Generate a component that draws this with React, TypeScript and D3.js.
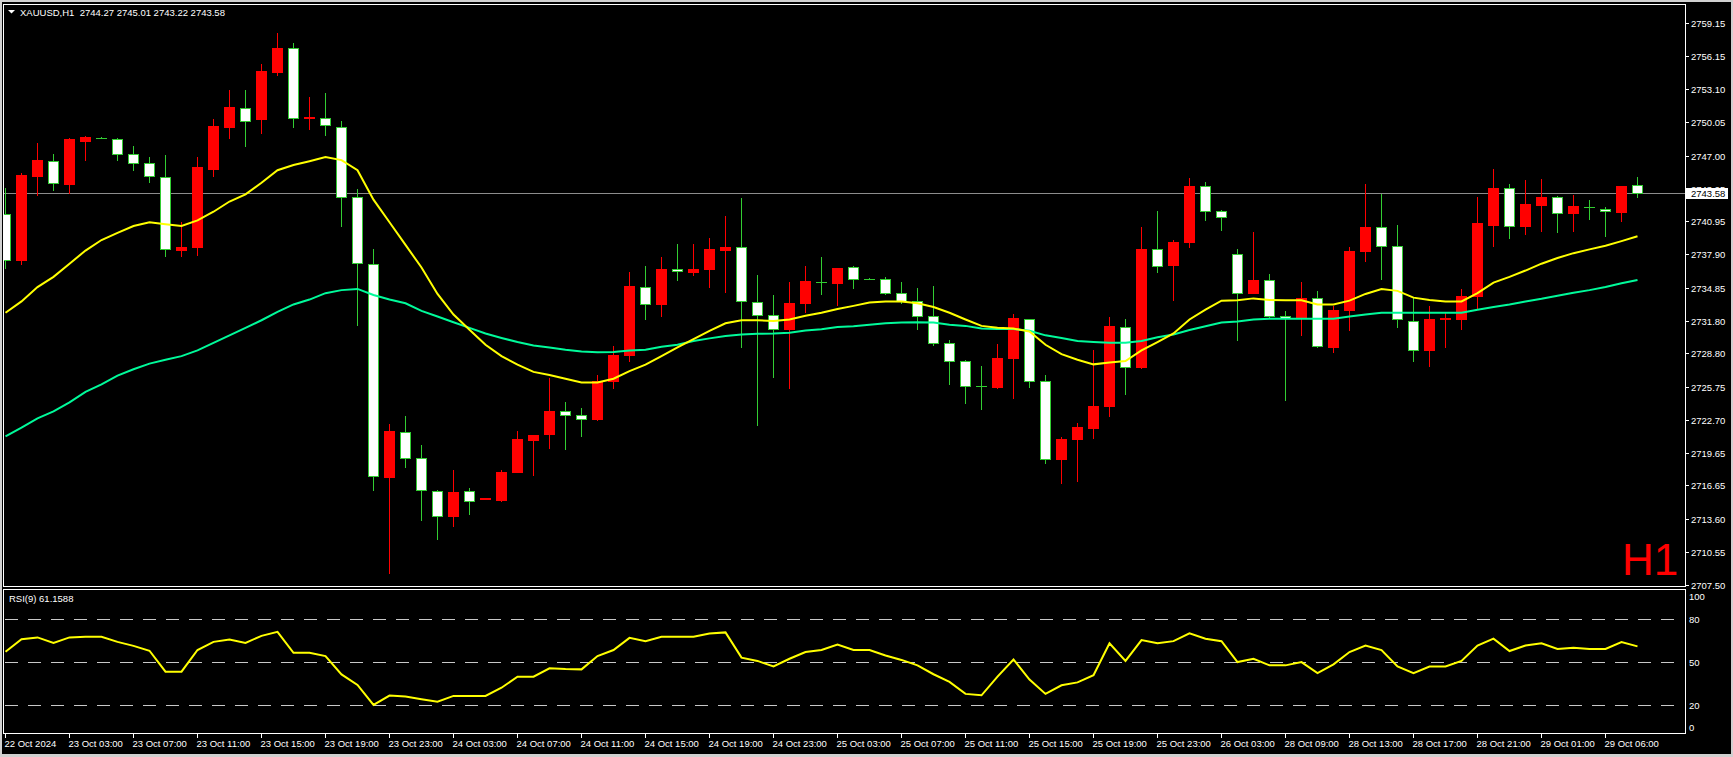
import React from 'react';
import * as d3 from 'd3';

// ---------- DATA ----------
const symbolTitle = 'XAUUSD,H1';
const titleValues = '2744.27 2745.01 2743.22 2743.58';
const rsiTitle = 'RSI(9) 61.1588';
const currentPrice = 2743.58;

const timeLabels = [
  '22 Oct 2024', '23 Oct 03:00', '23 Oct 07:00', '23 Oct 11:00', '23 Oct 15:00', '23 Oct 19:00',
  '23 Oct 23:00', '24 Oct 03:00', '24 Oct 07:00', '24 Oct 11:00', '24 Oct 15:00', '24 Oct 19:00',
  '24 Oct 23:00', '25 Oct 03:00', '25 Oct 07:00', '25 Oct 11:00', '25 Oct 15:00', '25 Oct 19:00',
  '25 Oct 23:00', '26 Oct 03:00', '28 Oct 09:00', '28 Oct 13:00', '28 Oct 17:00', '28 Oct 21:00',
  '29 Oct 01:00', '29 Oct 06:00',
];
const timeLabelStep = 4; // bars between labels

const priceTicks = [
  2759.15, 2756.15, 2753.10, 2750.05, 2747.00, 2743.95, 2740.95, 2737.90, 2734.85,
  2731.80, 2728.80, 2725.75, 2722.70, 2719.65, 2716.65, 2713.60, 2710.55, 2707.50,
];
const rsiLevels = [80, 50, 20];
const rsiAxisLabels = [100, 80, 50, 20, 0];

const opens = [
  2741.66, 2737.40, 2745.13, 2746.51, 2744.36, 2748.32, 2748.66, 2748.56, 2747.17, 2746.34,
  2744.99, 2738.33, 2738.61, 2745.75, 2749.64, 2751.40, 2750.40, 2754.73, 2756.88, 2750.48,
  2750.50, 2749.67, 2743.22, 2737.05, 2717.39, 2721.58, 2719.16, 2716.14, 2713.82, 2716.14,
  2715.43, 2715.27, 2717.91, 2720.86, 2721.38, 2723.49, 2723.14, 2722.73, 2726.23, 2728.66,
  2734.90, 2733.37, 2736.60, 2736.29, 2736.56, 2738.33, 2738.61, 2733.51, 2732.33, 2731.05,
  2733.48, 2735.40, 2735.31, 2736.77, 2735.68, 2735.66, 2734.38, 2733.65, 2732.26, 2729.77,
  2728.14, 2725.80, 2725.68, 2728.35, 2731.95, 2726.23, 2719.12, 2720.89, 2721.97, 2723.94,
  2731.26, 2727.51, 2738.37, 2736.94, 2739.02, 2744.19, 2741.94, 2737.98, 2734.34, 2735.59,
  2732.26, 2732.02, 2733.93, 2729.42, 2732.75, 2738.19, 2740.41, 2738.71, 2731.81, 2729.11,
  2731.95, 2731.95, 2734.10, 2740.62, 2743.98, 2740.52, 2742.42, 2743.15, 2741.73, 2742.29,
  2742.11, 2741.83, 2744.27,
];
const highs = [
  2743.98, 2745.37, 2748.14, 2747.17, 2748.66, 2748.84, 2748.68, 2748.66, 2747.87, 2746.86,
  2747.03, 2740.93, 2746.83, 2750.40, 2753.00, 2753.00, 2755.43, 2758.27, 2757.40, 2752.37,
  2752.76, 2750.22, 2743.91, 2738.44, 2722.31, 2723.08, 2720.41, 2716.20, 2718.05, 2716.42,
  2715.50, 2718.08, 2721.69, 2721.30, 2726.58, 2724.29, 2723.80, 2726.82, 2729.52, 2736.25,
  2736.88, 2737.64, 2738.89, 2738.89, 2739.37, 2741.42, 2743.08, 2735.97, 2734.21, 2735.38,
  2736.81, 2737.64, 2736.66, 2736.80, 2735.70, 2735.83, 2735.38, 2734.79, 2734.97, 2730.01,
  2728.16, 2727.62, 2729.66, 2732.44, 2731.98, 2726.82, 2721.10, 2722.42, 2729.14, 2732.19,
  2731.92, 2740.41, 2741.87, 2739.20, 2744.95, 2744.54, 2741.96, 2738.37, 2740.00, 2736.11,
  2732.71, 2735.38, 2734.52, 2733.17, 2738.61, 2744.36, 2743.46, 2740.65, 2733.93, 2733.13,
  2732.65, 2734.69, 2743.19, 2745.72, 2744.40, 2744.75, 2744.82, 2743.29, 2743.39, 2742.87,
  2742.25, 2744.23, 2745.01,
];
const lows = [
  2736.63, 2737.05, 2743.39, 2743.81, 2743.53, 2746.58, 2748.64, 2746.58, 2745.65, 2744.57,
  2737.74, 2737.74, 2737.81, 2745.13, 2748.59, 2747.90, 2749.12, 2754.45, 2749.64, 2749.46,
  2748.91, 2740.52, 2731.43, 2716.24, 2708.55, 2718.32, 2713.47, 2711.74, 2712.95, 2713.99,
  2715.40, 2715.20, 2717.88, 2717.63, 2720.06, 2719.99, 2721.17, 2722.66, 2725.61, 2728.10,
  2731.92, 2732.26, 2735.56, 2735.97, 2734.90, 2734.45, 2729.39, 2722.21, 2726.65, 2725.61,
  2732.61, 2734.27, 2733.23, 2734.79, 2735.62, 2734.27, 2733.41, 2731.08, 2729.59, 2725.95,
  2724.22, 2723.70, 2725.66, 2724.74, 2725.68, 2718.67, 2716.83, 2717.04, 2721.03, 2723.01,
  2725.09, 2727.48, 2736.29, 2733.75, 2738.61, 2741.04, 2740.17, 2730.01, 2734.31, 2732.02,
  2724.50, 2730.46, 2729.35, 2728.90, 2730.91, 2737.29, 2735.66, 2731.22, 2728.14, 2727.62,
  2729.42, 2731.05, 2732.89, 2738.68, 2739.41, 2739.82, 2740.07, 2739.96, 2740.07, 2741.14,
  2739.58, 2740.97, 2743.22,
];
const closes = [
  2737.40, 2745.20, 2746.58, 2744.43, 2748.49, 2748.70, 2748.66, 2747.17, 2746.34, 2745.09,
  2738.37, 2738.61, 2745.93, 2749.70, 2751.44, 2750.22, 2754.77, 2756.88, 2750.50, 2750.52,
  2749.77, 2743.15, 2737.15, 2717.53, 2721.62, 2719.16, 2716.24, 2713.82, 2716.07, 2715.20,
  2715.47, 2717.91, 2720.93, 2721.27, 2723.53, 2723.14, 2722.80, 2726.23, 2728.66, 2734.97,
  2733.37, 2736.60, 2736.36, 2736.60, 2738.37, 2738.61, 2733.58, 2732.37, 2731.08, 2733.48,
  2735.42, 2735.36, 2736.63, 2735.66, 2735.64, 2734.38, 2733.58, 2732.26, 2729.77, 2728.14,
  2725.81, 2725.76, 2728.35, 2732.02, 2726.23, 2719.12, 2720.93, 2722.03, 2723.98, 2731.29,
  2727.58, 2738.37, 2736.88, 2739.02, 2744.23, 2741.87, 2741.38, 2734.38, 2735.59, 2732.26,
  2732.09, 2733.93, 2729.49, 2732.75, 2738.19, 2740.41, 2738.71, 2731.92, 2729.11, 2731.99,
  2732.09, 2734.10, 2740.76, 2743.98, 2740.55, 2742.53, 2743.15, 2741.73, 2742.32, 2742.27,
  2741.90, 2744.23, 2743.58,
];

const maFast = [
  2732.54, 2733.58, 2734.90, 2735.84, 2737.05, 2738.26, 2739.23, 2739.89, 2740.52, 2740.86,
  2740.69, 2740.52, 2741.04, 2741.83, 2742.77, 2743.43, 2744.50, 2745.65, 2746.13, 2746.48,
  2746.86, 2746.58, 2745.65, 2742.94, 2740.86, 2738.78, 2736.70, 2734.27, 2732.37, 2730.98,
  2729.59, 2728.55, 2727.76, 2727.10, 2726.82, 2726.47, 2726.13, 2726.13, 2726.47, 2727.17,
  2727.76, 2728.55, 2729.35, 2730.11, 2730.88, 2731.57, 2731.85, 2731.85, 2731.78, 2731.92,
  2732.26, 2732.54, 2732.89, 2733.17, 2733.48, 2733.58, 2733.58, 2733.41, 2733.06, 2732.54,
  2731.92, 2731.33, 2731.15, 2731.08, 2730.81, 2729.59, 2728.73, 2728.21, 2727.79, 2727.96,
  2728.10, 2729.07, 2729.84, 2730.63, 2731.92, 2732.82, 2733.65, 2733.69, 2733.86, 2733.72,
  2733.69, 2733.69, 2733.30, 2733.30, 2733.65, 2734.27, 2734.73, 2734.55, 2733.93, 2733.72,
  2733.58, 2733.58, 2734.34, 2735.31, 2735.84, 2736.42, 2737.05, 2737.57, 2738.02, 2738.37,
  2738.71, 2739.13, 2739.58,
];
const maSlow = [
  2721.17, 2721.97, 2722.83, 2723.46, 2724.29, 2725.26, 2725.95, 2726.75, 2727.34, 2727.86,
  2728.21, 2728.55, 2729.07, 2729.77, 2730.46, 2731.15, 2731.85, 2732.61, 2733.30, 2733.75,
  2734.34, 2734.62, 2734.73, 2734.17, 2733.75, 2733.41, 2732.71, 2732.19, 2731.67, 2731.15,
  2730.63, 2730.22, 2729.84, 2729.52, 2729.35, 2729.14, 2728.97, 2728.90, 2728.93, 2729.07,
  2729.14, 2729.42, 2729.59, 2729.94, 2730.18, 2730.39, 2730.53, 2730.60, 2730.63, 2730.70,
  2730.91, 2731.02, 2731.22, 2731.29, 2731.43, 2731.57, 2731.64, 2731.67, 2731.64, 2731.43,
  2731.33, 2731.08, 2731.05, 2731.05, 2730.88, 2730.46, 2730.22, 2729.94, 2729.84, 2729.77,
  2729.77, 2729.94, 2730.29, 2730.53, 2730.95, 2731.29, 2731.64, 2731.74, 2731.92, 2731.99,
  2731.99, 2731.99, 2731.99, 2731.99, 2732.19, 2732.37, 2732.54, 2732.54, 2732.54, 2732.54,
  2732.54, 2732.54, 2732.82, 2733.06, 2733.30, 2733.58, 2733.82, 2734.10, 2734.38, 2734.62,
  2734.90, 2735.25, 2735.56,
];
const rsiValues = [
  57.4, 66.2, 67.4, 63.6, 67.4, 67.8, 67.8, 64.3, 61.5, 58.1,
  43.5, 43.5, 58.6, 64.3, 66.0, 63.6, 68.5, 71.3, 56.7, 56.7,
  54.4, 41.6, 34.2, 20.3, 26.8, 26.1, 24.3, 22.6, 26.6, 26.6,
  26.6, 32.3, 40.0, 40.0, 45.8, 45.3, 45.1, 54.4, 58.6, 67.1,
  64.8, 67.9, 67.9, 67.9, 70.2, 70.9, 53.3, 51.0, 47.1, 52.5,
  57.2, 58.6, 62.5, 58.6, 58.6, 54.8, 51.7, 47.9, 41.7, 36.4,
  28.0, 27.0, 40.0, 52.0, 38.0, 28.0, 34.0, 36.0, 41.0, 63.3,
  51.0, 65.5, 63.3, 64.8, 70.2, 66.5, 64.8, 50.2, 52.5, 47.9,
  47.9, 50.2, 42.5, 48.6, 57.2, 61.7, 58.6, 47.1, 42.5, 47.1,
  47.1, 51.0, 61.7, 66.5, 57.9, 61.7, 63.3, 59.4, 60.2, 59.4,
  59.4, 64.1, 61.16,
];

// ---------- LAYOUT ----------
const W = 1733;
const H = 757;
const frameLeft = 3.5;
const frameRight = 1685.5;
const mainTop = 4.5;
const mainBottom = 586.5;
const rsiTop = 589.5;
const rsiBottom = 733.5;
const FONT = '"Liberation Sans", Arial, sans-serif';
const BULL = '#ff0000';
const BEAR_LINE = '#32cd32';
const TEXT = '#ffffff';

export default function App() {
  const x = d3.scaleLinear().domain([0, 105]).range([5.5, 5.5 + 16 * 105]);
  const y = d3.scaleLinear().domain([2707.4, 2760.85]).range([586, 5]);
  const yr = d3.scaleLinear().domain([0, 100]).range([734, 590.7]);

  const lineMain = d3.line<number>().x((_, i) => x(i)).y((d) => y(d));
  const lineRsi = d3.line<number>().x((_, i) => x(i)).y((d) => yr(d));

  const candles = opens.map((o, i) => {
    const c = closes[i];
    const cx = Math.floor(x(i));
    const bull = c > o;
    const hi = Math.round(y(highs[i]));
    const lo = Math.round(y(lows[i]));
    const yo = Math.round(y(o));
    const yc = Math.round(y(c));
    const wickColor = bull ? BULL : BEAR_LINE;
    const top = Math.min(yo, yc);
    const bot = Math.max(yo, yc);
    const parts: React.ReactNode[] = [];
    parts.push(
      <rect key="w" x={cx} y={hi} width={1} height={Math.max(1, lo - hi + 1)} fill={wickColor} />
    );
    if (bot - top < 1) {
      parts.push(<rect key="b" x={cx - 5} y={top} width={11} height={1} fill={wickColor} />);
    } else if (bull) {
      parts.push(<rect key="b" x={cx - 5} y={top} width={11} height={bot - top + 1} fill={BULL} />);
    } else {
      parts.push(<rect key="o" x={cx - 5} y={top} width={11} height={bot - top + 1} fill={BEAR_LINE} />);
      if (bot - top > 1) {
        parts.push(<rect key="i" x={cx - 4} y={top + 1} width={9} height={bot - top - 1} fill="#ffffff" />);
      }
    }
    return <g key={i}>{parts}</g>;
  });

  const yCur = y(currentPrice);

  return (
    <svg
      width={W}
      height={H}
      viewBox={`0 0 ${W} ${H}`}
      style={{ position: 'absolute', left: 0, top: 0, display: 'block' }}
      fontFamily={FONT}
    >
      <defs>
        <clipPath id="mainClip">
          <rect x={4} y={5} width={1681} height={581} />
        </clipPath>
        <clipPath id="rsiClip">
          <rect x={4} y={590} width={1681} height={143} />
        </clipPath>
      </defs>
      {/* window */}
      <rect x={0} y={0} width={W} height={H} fill="#d0d0d0" />
      <rect x={2} y={2} width={W - 4} height={752} fill="#000000" />

      {/* main chart */}
      <g clipPath="url(#mainClip)">
        <line x1={4} x2={1685} y1={Math.round(yCur) + 0.5} y2={Math.round(yCur) + 0.5} stroke="#8c8c8c" strokeWidth={1} shapeRendering="crispEdges" />
        <g shapeRendering="crispEdges">{candles}</g>
        <path d={lineMain(maSlow) || ''} fill="none" stroke="#00fa9a" strokeWidth={2} />
        <path d={lineMain(maFast) || ''} fill="none" stroke="#ffff00" strokeWidth={2} />
        <text x={1622} y={575} fontSize={44} fill="#ff0000">H1</text>
      </g>

      {/* title */}
      <polygon points="8,10 15,10 11.5,13.5" fill={TEXT} />
      <text x={20} y={15.5} fontSize={9.5} fill={TEXT} xmlSpace="preserve">{`${symbolTitle}  ${titleValues}`}</text>

      {/* frames */}
      <rect x={frameLeft} y={mainTop} width={frameRight - frameLeft} height={mainBottom - mainTop} fill="none" stroke="#ffffff" strokeWidth={1} shapeRendering="crispEdges" />
      <rect x={frameLeft} y={rsiTop} width={frameRight - frameLeft} height={rsiBottom - rsiTop} fill="none" stroke="#ffffff" strokeWidth={1} shapeRendering="crispEdges" />

      {/* price axis */}
      <g fontSize={9.5} fill={TEXT}>
        {priceTicks.map((v) => {
          const ty = Math.round(y(v)) + 0.5;
          return (
            <g key={v}>
              <line x1={1686} x2={1689} y1={ty} y2={ty} stroke={TEXT} shapeRendering="crispEdges" />
              <text x={1691} y={ty} dy="0.35em">{v.toFixed(2)}</text>
            </g>
          );
        })}
      </g>
      {/* current price label */}
      <rect x={1686} y={Math.round(yCur) - 5} width={42} height={11} fill="#ffffff" />
      <text x={1691} y={Math.round(yCur) + 0.5} dy="0.35em" fontSize={9.5} fill="#000000">{currentPrice.toFixed(2)}</text>

      {/* RSI panel */}
      <g clipPath="url(#rsiClip)">
        {rsiLevels.map((lv) => (
          <line key={lv} x1={5} x2={1684} y1={Math.round(yr(lv)) + 0.5} y2={Math.round(yr(lv)) + 0.5} stroke="#c8c8c8" strokeWidth={1} strokeDasharray="13,10" shapeRendering="crispEdges" />
        ))}
        <path d={lineRsi(rsiValues) || ''} fill="none" stroke="#ffff00" strokeWidth={2} />
      </g>
      <text x={9} y={599} dy="0.35em" fontSize={9.5} fill={TEXT}>{rsiTitle}</text>
      <g fontSize={9.5} fill={TEXT}>
        {rsiAxisLabels.map((v) => {
          const ly = Math.min(Math.max(yr(v), 597), 727.7);
          return (
            <text key={v} x={1689} y={ly} dy="0.35em">{v}</text>
          );
        })}
      </g>

      {/* time axis */}
      <g fontSize={9.5} fill={TEXT}>
        {timeLabels.map((lab, k) => {
          const tx = Math.floor(x(k * timeLabelStep)) + 0.5;
          return (
            <g key={lab}>
              <line x1={tx} x2={tx} y1={734} y2={738} stroke={TEXT} shapeRendering="crispEdges" />
              <text x={tx - 1} y={743.5} dy="0.35em">{lab}</text>
            </g>
          );
        })}
      </g>
    </svg>
  );
}
